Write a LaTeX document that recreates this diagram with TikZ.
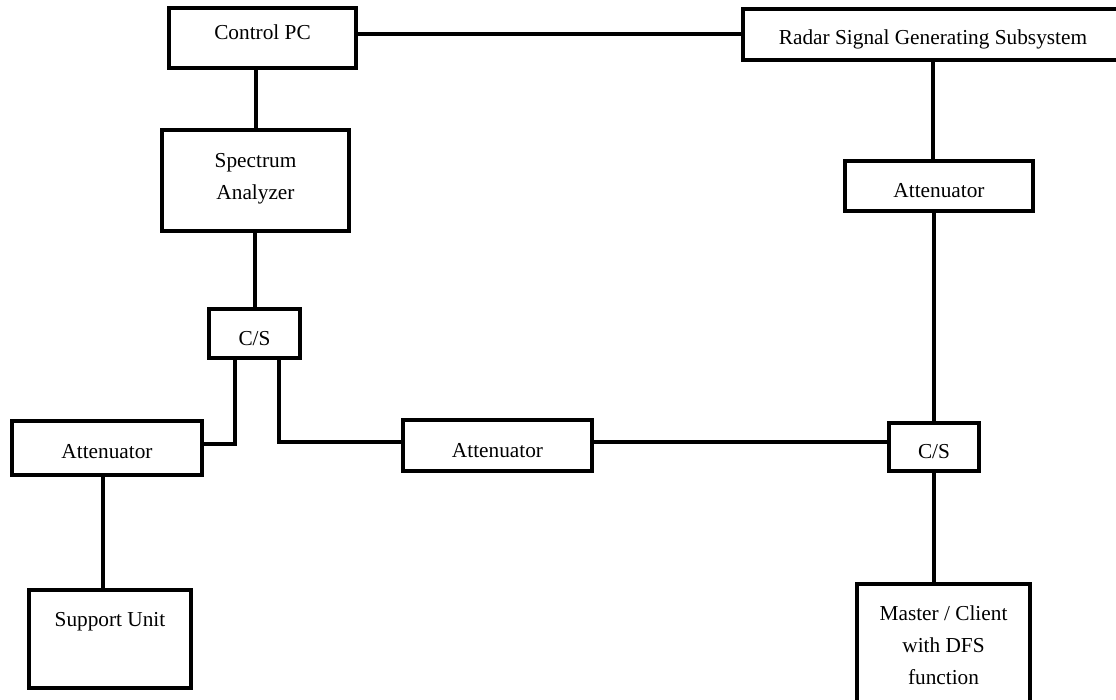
\documentclass[tikz,border=0pt]{standalone}
\usepackage{fontspec}
\setmainfont{Liberation Serif}
\usetikzlibrary{calc}
\tikzset{
  box/.style={draw, line width=4pt, inner sep=0pt, anchor=base,
    font=\fontsize{21.3}{32}\selectfont},
  wire/.style={line width=4pt},
}
\newcommand{\twolines}[2]{\begin{tabular}[t]{@{}c@{}}#1\\#2\end{tabular}}
\newcommand{\threelines}[3]{\begin{tabular}[t]{@{}c@{}}#1\\#2\\#3\end{tabular}}
\begin{document}
\begin{tikzpicture}[x=1pt,y=-1pt]
\useasboundingbox (0,0) rectangle (1116,700);
\clip (0,0) rectangle (1116,700);
\fill[white] (0,0) rectangle (1116,700);

\node[box, minimum width=187pt, text height=32pt, text depth=28pt] (pc) at (262.5,40) {Control PC};
\node[box, minimum width=187pt, text height=38pt, text depth=63pt] (sa) at (255.5,168) {\twolines{Spectrum}{Analyzer}};
\node[box, minimum width=91pt, text height=36pt, text depth=13pt] (cs1) at (254.5,345) {C/S};
\node[box, minimum width=190pt, text height=37pt, text depth=17pt] (att1) at (107,458) {Attenuator};
\node[box, minimum width=162pt, text height=36pt, text depth=62pt] (su) at (110,626) {Support Unit};
\node[box, minimum width=189pt, text height=37pt, text depth=14pt] (att2) at (497.5,457) {Attenuator};
\node[box, minimum width=380pt, text height=36pt, text depth=15pt] (rsgs) at (933,45) {Radar Signal Generating Subsystem};
\node[box, minimum width=188pt, text height=37pt, text depth=13pt] (att3) at (939,198) {Attenuator};
\node[box, minimum width=90pt, text height=35pt, text depth=13pt] (cs2) at (934,458) {C/S};
\node[box, minimum width=173pt, text height=36pt, text depth=100pt] (mc) at (943.5,620) {\threelines{Master / Client}{with DFS}{function}};

% connectors
\draw[wire] (rsgs.west) -- (rsgs.west -| pc.east);
\draw[wire] (sa.north) -- (sa.north |- pc.south);
\draw[wire] (cs1.north) -- (cs1.north |- sa.south);
\coordinate (l1) at ([xshift=-19.5pt]cs1.south);
\coordinate (l2) at ([yshift=4pt]att1.east);
\draw[wire] (l1) |- (l2);
\coordinate (r1) at ([xshift=24.5pt]cs1.south);
\coordinate (r2) at ([yshift=3.5pt]att2.west);
\draw[wire] (r1) |- (r2);
\coordinate (m1) at ([yshift=3.5pt]att2.east);
\draw[wire] (m1) -- (m1 -| cs2.west);
\draw[wire] (rsgs.south) -- (rsgs.south |- att3.north);
\draw[wire] (cs2.north) -- (cs2.north |- att3.south);
\draw[wire] (cs2.south) -- (cs2.south |- mc.north);
\coordinate (s1) at ([xshift=-4pt]att1.south);
\draw[wire] (s1) -- (s1 |- su.north);
\end{tikzpicture}
\end{document}
